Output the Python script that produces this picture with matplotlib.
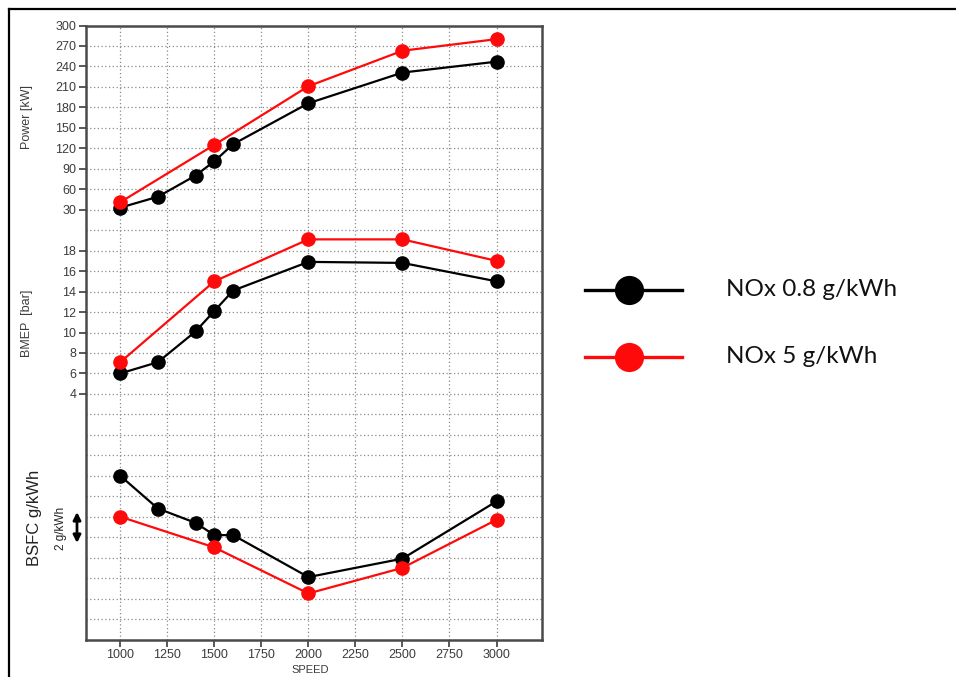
import matplotlib
matplotlib.use("Agg")
import matplotlib.pyplot as plt
from matplotlib.lines import Line2D

# engine speed points (rpm)
speed_08 = [1000, 1200, 1400, 1500, 1600, 2000, 2500, 3000]
speed_5 = [1000, 1500, 2000, 2500, 3000]

# power [kW]
power_08 = [33, 49, 80, 101, 126, 186, 231, 247]
power_5 = [41, 125, 211, 263, 280]

# BMEP [bar]
bmep_08 = [6.0, 7.1, 10.1, 12.1, 14.1, 16.9, 16.8, 15.0]
bmep_5 = [7.1, 15.0, 19.1, 19.1, 17.0]

# BSFC, relative to the lowest grid line [g/kWh]
bsfc_08 = [16.0, 12.8, 11.4, 10.2, 10.2, 6.1, 7.9, 13.5]
bsfc_5 = [12.0, 9.0, 4.5, 7.0, 11.7]

speed_ticks = [1000, 1250, 1500, 1750, 2000, 2250, 2500, 2750, 3000]
power_ticks = list(range(30, 301, 30))
bmep_ticks = list(range(4, 19, 2))

labels = ["NOx 0.8 g/kWh", "NOx 5 g/kWh"]
colors = ["black", "#ff0a0a"]

W, H = 956, 677
fig = plt.figure(figsize=(W / 100, H / 100), dpi=100)
fig.patch.set_facecolor("white")

def fx(px):
    return px / W

def fy(py):
    return 1 - py / H

rect = [fx(86), fy(639.5), fx(541.5) - fx(86), fy(25.5) - fy(639.5)]
tick_family = ["Liberation Sans", "DejaVu Sans"]
gray = "#3c3c3c"

# base axes: power, also carries the full grid (30 rows)
ax = fig.add_axes(rect)
ax.set_xlim(818, 3239)
ax.set_ylim(-600, 300)
ax.set_xticks(speed_ticks)
ax.set_yticks(power_ticks)
ax.set_yticks(range(-600, 300, 30), minor=True)
ax.tick_params(axis="y", which="minor", length=0)
ax.tick_params(axis="both", which="major", direction="out", length=5, width=1.2,
               colors=gray, labelsize=9, pad=2)
for lab in ax.get_xticklabels() + ax.get_yticklabels():
    lab.set_fontfamily(tick_family)
ax.grid(True, which="both", axis="y", color="#8a8a8a", linestyle=(0, (1, 2)), lw=0.9)
ax.grid(True, which="major", axis="x", color="#8a8a8a", linestyle=(0, (1, 2)), lw=0.9)
for s in ax.spines.values():
    s.set_color("#4a4a4a")
    s.set_linewidth(1.8)

# BMEP axis, same box, ticks on the left
ax_b = ax.twinx()
ax_b.set_ylim(-20, 40)
ax_b.yaxis.tick_left()
ax_b.set_yticks(bmep_ticks)
ax_b.tick_params(axis="y", direction="out", length=5, width=1.2, colors=gray,
                 labelsize=9, pad=2)
for lab in ax_b.get_yticklabels():
    lab.set_fontfamily(tick_family)
for s in ax_b.spines.values():
    s.set_visible(False)

# BSFC axis, no scale shown
ax_s = ax.twinx()
ax_s.set_ylim(0, 60)
ax_s.set_yticks([])
for s in ax_s.spines.values():
    s.set_visible(False)

style = dict(marker="o", markersize=9.5, linewidth=1.6, clip_on=False)
ax.plot(speed_08, power_08, color=colors[0], zorder=3, **style)
ax.plot(speed_5, power_5, color=colors[1], zorder=3, **style)
ax_b.plot(speed_08, bmep_08, color=colors[0], zorder=3, **style)
ax_b.plot(speed_5, bmep_5, color=colors[1], zorder=3, **style)
ax_s.plot(speed_08, bsfc_08, color=colors[0], zorder=3, **style)
ax_s.plot(speed_5, bsfc_5, color=colors[1], zorder=3, **style)

# axis titles
lab_font = ["Liberation Sans", "DejaVu Sans"]
fig.text(fx(27), fy(117), "Power [kW]", rotation=90, ha="center", va="center",
         fontsize=9, color=gray, family=lab_font)
fig.text(fx(27), fy(323), "BMEP  [bar]", rotation=90, ha="center", va="center",
         fontsize=9, color=gray, family=lab_font)
fig.text(fx(35), fy(518), "BSFC g/kWh", rotation=90, ha="center", va="center",
         fontsize=12, color="#222222", family=lab_font)
fig.text(fx(61), fy(528), "2 g/kWh", rotation=90, ha="center", va="center",
         fontsize=8.5, color="#222222", family=lab_font)
fig.add_artist(plt.Annotation("", xy=(fx(77), fy(543)), xytext=(fx(77), fy(512)),
                              xycoords="figure fraction", textcoords="figure fraction",
                              arrowprops=dict(arrowstyle="<|-|>", color="black", lw=2,
                                              mutation_scale=11, shrinkA=0, shrinkB=0)))
fig.text(fx(310), fy(670), "SPEED", ha="center", va="center", fontsize=8,
         color=gray, family=lab_font)

# legend on the right
for i, (lab, col) in enumerate(zip(labels, colors)):
    y = fy(290 + 66.5 * i)
    fig.add_artist(Line2D([fx(585), fx(682)], [y, y], transform=fig.transFigure,
                          color=col, lw=2.4))
    fig.add_artist(Line2D([fx(629)], [y], transform=fig.transFigure, color=col,
                          marker="o", markersize=21, markeredgewidth=0))
    fig.text(fx(726), y, lab, ha="left", va="center", fontsize=17.5,
             color="#111111", family=["Lato", "DejaVu Sans"])

# frame round the figure (top and left edges)
fig.add_artist(Line2D([fx(9), 1], [fy(9), fy(9)], transform=fig.transFigure,
                      color="black", lw=1.6))
fig.add_artist(Line2D([fx(9), fx(9)], [fy(9), 0], transform=fig.transFigure,
                      color="black", lw=1.6))

fig.savefig("out.png", dpi=100)
